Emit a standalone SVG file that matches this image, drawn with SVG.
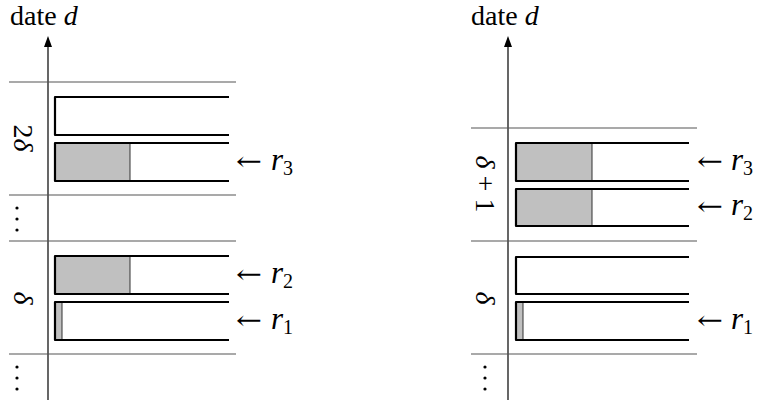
<svg xmlns="http://www.w3.org/2000/svg" width="761" height="403" viewBox="0 0 761 403">
  <style>
    .lbl { font-family: "Liberation Serif", "DejaVu Serif", serif; font-size: 28px; fill: #000; }
    .it { font-style: italic; }
    .arr { font-family: "DejaVu Serif", "Liberation Serif", serif; font-size: 26px; fill: #000; }
    .rv { font-family: "Liberation Serif", "DejaVu Serif", serif; font-size: 31px; font-style: italic; fill: #000; }
    .sub { font-size: 20px; font-style: normal; }
    .axis { stroke: #000; stroke-width: 1.2; fill: none; }
    .sep { stroke: #555; stroke-width: 1.2; fill: none; }
    .slot { stroke: #000; stroke-width: 2.2; fill: none; stroke-linejoin: round; }
    .used { fill: #c0c0c0; stroke: none; }
    .cut { stroke: #333; stroke-width: 1; }
    .dot { fill: #000; }
  </style>

  <!-- left timeline -->
  <g id="left-axis">
    <text class="lbl" x="10" y="25">date <tspan class="it">d</tspan></text>
    <line class="axis" x1="48" y1="400" x2="48" y2="44"/>
    <polygon points="48,36 44,47 52,47" fill="#000"/>
  </g>
  <g id="left-separators">
    <line class="sep" x1="9" y1="82" x2="236" y2="82"/>
    <line class="sep" x1="9" y1="195" x2="236" y2="195"/>
    <line class="sep" x1="9" y1="241" x2="236" y2="241"/>
    <line class="sep" x1="9" y1="354" x2="236" y2="354"/>
  </g>
  <g id="left-period-labels">
    <text class="lbl" transform="translate(14,138) rotate(90)" text-anchor="middle">2<tspan class="it">δ</tspan></text>
    <text class="lbl it" transform="translate(14,298) rotate(90)" text-anchor="middle">δ</text>
    <circle class="dot" cx="17" cy="208" r="1.6"/>
    <circle class="dot" cx="17" cy="219" r="1.6"/>
    <circle class="dot" cx="17" cy="230" r="1.6"/>
    <circle class="dot" cx="17" cy="367" r="1.6"/>
    <circle class="dot" cx="17" cy="378" r="1.6"/>
    <circle class="dot" cx="17" cy="389" r="1.6"/>
  </g>
  <g id="left-slot-a">
    <path class="slot" d="M229,97 H55 V135 H229"/>
  </g>
  <g id="left-slot-r3">
    <rect class="used" x="55" y="143" width="75" height="38"/>
    <line class="cut" x1="130" y1="143" x2="130" y2="181"/>
    <path class="slot" d="M229,143 H55 V181 H229"/>
    <text class="arr" x="236" y="170" textLength="26" lengthAdjust="spacingAndGlyphs">←</text>
    <text class="rv" x="271" y="170">r<tspan class="sub" dy="5">3</tspan></text>
  </g>
  <g id="left-slot-r2">
    <rect class="used" x="55" y="256" width="75" height="38"/>
    <line class="cut" x1="130" y1="256" x2="130" y2="294"/>
    <path class="slot" d="M229,256 H55 V294 H229"/>
    <text class="arr" x="236" y="283" textLength="26" lengthAdjust="spacingAndGlyphs">←</text>
    <text class="rv" x="271" y="283">r<tspan class="sub" dy="5">2</tspan></text>
  </g>
  <g id="left-slot-r1">
    <rect class="used" x="55" y="302" width="7" height="38"/>
    <line class="cut" x1="62" y1="302" x2="62" y2="340"/>
    <path class="slot" d="M229,302 H55 V340 H229"/>
    <text class="arr" x="236" y="329" textLength="26" lengthAdjust="spacingAndGlyphs">←</text>
    <text class="rv" x="271" y="329">r<tspan class="sub" dy="5">1</tspan></text>
  </g>

  <!-- right timeline -->
  <g id="right-axis">
    <text class="lbl" x="471" y="25">date <tspan class="it">d</tspan></text>
    <line class="axis" x1="508" y1="400" x2="508" y2="44"/>
    <polygon points="508,36 504,47 512,47" fill="#000"/>
  </g>
  <g id="right-separators">
    <line class="sep" x1="471" y1="128" x2="697" y2="128"/>
    <line class="sep" x1="471" y1="241" x2="697" y2="241"/>
    <line class="sep" x1="471" y1="354" x2="697" y2="354"/>
  </g>
  <g id="right-period-labels">
    <text class="lbl" transform="translate(476,184) rotate(90)" text-anchor="middle"><tspan class="it">δ</tspan> + 1</text>
    <text class="lbl it" transform="translate(476,298) rotate(90)" text-anchor="middle">δ</text>
    <circle class="dot" cx="485" cy="367" r="1.6"/>
    <circle class="dot" cx="485" cy="378" r="1.6"/>
    <circle class="dot" cx="485" cy="389" r="1.6"/>
  </g>
  <g id="right-slot-r3">
    <rect class="used" x="516" y="143" width="76" height="38"/>
    <line class="cut" x1="592" y1="143" x2="592" y2="181"/>
    <path class="slot" d="M689,143 H516 V181 H689"/>
    <text class="arr" x="697" y="170" textLength="26" lengthAdjust="spacingAndGlyphs">←</text>
    <text class="rv" x="731" y="170">r<tspan class="sub" dy="5">3</tspan></text>
  </g>
  <g id="right-slot-r2">
    <rect class="used" x="516" y="189" width="76" height="37"/>
    <line class="cut" x1="592" y1="189" x2="592" y2="226"/>
    <path class="slot" d="M689,189 H516 V226 H689"/>
    <text class="arr" x="697" y="215" textLength="26" lengthAdjust="spacingAndGlyphs">←</text>
    <text class="rv" x="731" y="215">r<tspan class="sub" dy="5">2</tspan></text>
  </g>
  <g id="right-slot-b">
    <path class="slot" d="M689,257 H516 V294 H689"/>
  </g>
  <g id="right-slot-r1">
    <rect class="used" x="516" y="302" width="7" height="38"/>
    <line class="cut" x1="523" y1="302" x2="523" y2="340"/>
    <path class="slot" d="M689,302 H516 V340 H689"/>
    <text class="arr" x="697" y="329" textLength="26" lengthAdjust="spacingAndGlyphs">←</text>
    <text class="rv" x="731" y="329">r<tspan class="sub" dy="5">1</tspan></text>
  </g>
</svg>
